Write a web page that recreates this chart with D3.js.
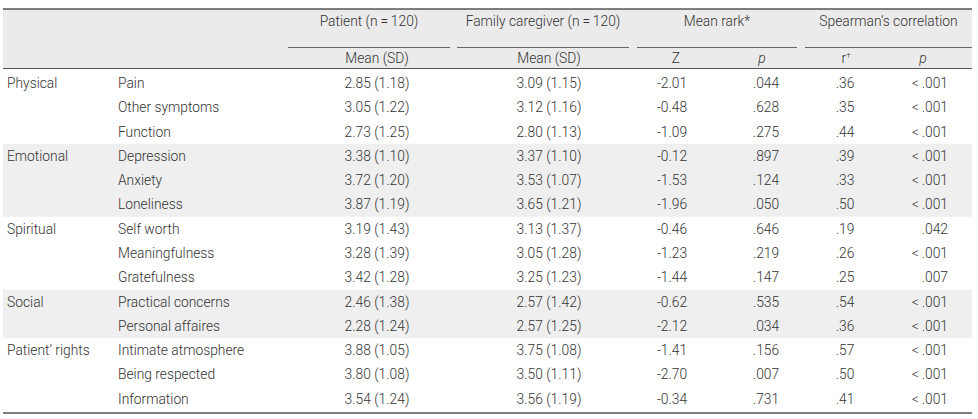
<!DOCTYPE html>
<html>
<head>
<meta charset="utf-8">
<script src="https://cdn.jsdelivr.net/npm/d3@7/dist/d3.min.js"></script>
<style>
  html, body { margin: 0; padding: 0; background: #fff; }
  svg { display: block; font-family: Roboto, "Liberation Sans", Arial, sans-serif; }
  text { fill: #333; font-size: 13.8px; font-weight: 300; }
</style>
</head>
<body>
<svg id="chart" width="978" height="419"></svg>
<script>
// ---- data ----
const domains = ["Physical", "Emotional", "Spiritual", "Social", "Patient\u2019 rights"];
const domainSizes = [3, 3, 3, 2, 3];
const items = ["Pain", "Other symptoms", "Function", "Depression", "Anxiety", "Loneliness",
  "Self worth", "Meaningfulness", "Gratefulness", "Practical concerns", "Personal affaires",
  "Intimate atmosphere", "Being respected", "Information"];
const patientMean = ["2.85", "3.05", "2.73", "3.38", "3.72", "3.87", "3.19", "3.28", "3.42", "2.46", "2.28", "3.88", "3.80", "3.54"];
const patientSD   = ["1.18", "1.22", "1.25", "1.10", "1.20", "1.19", "1.43", "1.39", "1.28", "1.38", "1.24", "1.05", "1.08", "1.24"];
const caregiverMean = ["3.09", "3.12", "2.80", "3.37", "3.53", "3.65", "3.13", "3.05", "3.25", "2.57", "2.57", "3.75", "3.50", "3.56"];
const caregiverSD   = ["1.15", "1.16", "1.13", "1.10", "1.07", "1.21", "1.37", "1.28", "1.23", "1.42", "1.25", "1.08", "1.11", "1.19"];
const zValues = ["-2.01", "-0.48", "-1.09", "-0.12", "-1.53", "-1.96", "-0.46", "-1.23", "-1.44", "-0.62", "-2.12", "-1.41", "-2.70", "-0.34"];
const zP = [".044", ".628", ".275", ".897", ".124", ".050", ".646", ".219", ".147", ".535", ".034", ".156", ".007", ".731"];
const rValues = [".36", ".35", ".44", ".39", ".33", ".50", ".19", ".26", ".25", ".54", ".36", ".57", ".50", ".41"];
const rP = ["<\u2009.001", "<\u2009.001", "<\u2009.001", "<\u2009.001", "<\u2009.001", "<\u2009.001", ".042", "<\u2009.001", ".007", "<\u2009.001", "<\u2009.001", "<\u2009.001", "<\u2009.001", "<\u2009.001"];
const groupHeaders = ["Patient (n\u2009=\u2009120)", "Family caregiver (n\u2009=\u2009120)", "Mean rark*", "Spearman\u2019s correlation"];

// ---- layout ----
const svg = d3.select("#chart");
const left = 3, right = 972;
const y = d3.scaleBand().domain(d3.range(items.length)).range([71, 411]);

// header background
svg.append("rect").attr("x", left).attr("y", 9).attr("width", right - left).attr("height", 59.5).attr("fill", "#ebebeb");

// domain bands
let start = 0;
const domainStarts = domainSizes.map(n => { const s = start; start += n; return s; });
domains.forEach((d, i) => {
  if (i % 2 === 1) {
    const s = domainStarts[i], n = domainSizes[i];
    svg.append("rect").attr("x", left).attr("y", y(s))
      .attr("width", right - left).attr("height", y.step() * n).attr("fill", "#efefef");
  }
});

// lines
svg.append("line").attr("x1", left).attr("x2", right).attr("y1", 9).attr("y2", 9).attr("stroke", "#555").attr("stroke-width", 1.4);
svg.append("line").attr("x1", left).attr("x2", right).attr("y1", 68.5).attr("y2", 68.5).attr("stroke", "#555").attr("stroke-width", 1.2);
svg.append("line").attr("x1", left).attr("x2", right).attr("y1", 413).attr("y2", 413).attr("stroke", "#555").attr("stroke-width", 1.4);

const groups = [[288, 450], [457, 629], [637, 797], [805, 972]];
groups.forEach((g, i) => {
  svg.append("line").attr("x1", g[0]).attr("x2", g[1]).attr("y1", 47.5).attr("y2", 47.5).attr("stroke", "#666").attr("stroke-width", 1);
  svg.append("text").attr("x", (g[0] + g[1]) / 2).attr("y", 21).attr("dy", "0.35em")
    .attr("text-anchor", "middle").text(groupHeaders[i]);
});

// sub headers
const sub = [
  {x: 377, t: "Mean (SD)"}, {x: 549, t: "Mean (SD)"}, {x: 676, t: "Z"}
];
sub.forEach(s => svg.append("text").attr("x", s.x).attr("y", 58).attr("dy", "0.35em").attr("text-anchor", "middle").text(s.t));
svg.append("text").attr("x", 762).attr("y", 58).attr("dy", "0.35em").attr("text-anchor", "middle").style("font-style", "italic").text("p");
svg.append("text").attr("x", 923).attr("y", 58).attr("dy", "0.35em").attr("text-anchor", "middle").style("font-style", "italic").text("p");
const rt = svg.append("text").attr("x", 846).attr("y", 58).attr("dy", "0.35em").attr("text-anchor", "middle");
rt.append("tspan").text("r");
rt.append("tspan").attr("dy", "-5").style("font-size", "8px").text("\u2020");

// domain labels
domains.forEach((d, i) => {
  svg.append("text").attr("x", 7).attr("y", y(domainStarts[i]) + y.bandwidth() / 2).attr("dy", "0.35em").text(d);
});

// rows
const rows = svg.selectAll("g.row").data(items).join("g").attr("class", "row")
  .attr("transform", (d, i) => `translate(0,${y(i) + y.bandwidth() / 2})`);
rows.append("text").attr("x", 118).attr("dy", "0.35em").text(d => d);
rows.append("text").attr("x", 377).attr("dy", "0.35em").attr("text-anchor", "middle").text((d, i) => `${patientMean[i]} (${patientSD[i]})`);
rows.append("text").attr("x", 549).attr("dy", "0.35em").attr("text-anchor", "middle").text((d, i) => `${caregiverMean[i]} (${caregiverSD[i]})`);
rows.append("text").attr("x", 672).attr("dy", "0.35em").attr("text-anchor", "middle").text((d, i) => zValues[i]);
rows.append("text").attr("x", 766).attr("dy", "0.35em").attr("text-anchor", "middle").text((d, i) => zP[i]);
rows.append("text").attr("x", 845).attr("dy", "0.35em").attr("text-anchor", "middle").text((d, i) => rValues[i]);
rows.append("text").attr("x", 948).attr("dy", "0.35em").attr("text-anchor", "end").text((d, i) => rP[i]);
</script>
</body>
</html>
